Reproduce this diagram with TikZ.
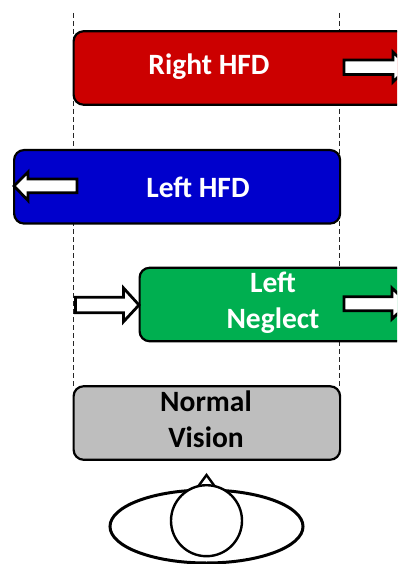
\documentclass[tikz,border=0pt]{standalone}
\usepackage{fontspec}
\usetikzlibrary{shapes.geometric}
\setmainfont{Carlito}
\tikzset{
  barbox/.style={draw=black,line width=2.2pt,rounded corners=10pt,minimum height=73.5pt,inner sep=0pt,anchor=west},
  barlabel/.style={font=\fontsize{29.5}{33}\selectfont\bfseries,text=white,inner sep=0pt,anchor=base},
  greylabel/.style={barlabel,text=black},
  fieldline/.style={draw=black!85,line width=1pt,dash pattern=on 5pt off 3pt},
  blockarrow/.style={draw=black,fill=white,line width=2.8pt,miter limit=6},
  eyeline/.style={draw=black,fill=white,line width=2.4pt},
  headline/.style={draw=black,fill=white,line width=3pt}
}
\definecolor{barred}{HTML}{CC0000}
\definecolor{barblue}{HTML}{0000CC}
\definecolor{bargreen}{HTML}{00AF50}
\definecolor{bargrey}{HTML}{BEBEBE}
\begin{document}
\begin{tikzpicture}[x=1pt,y=-1pt]
\useasboundingbox (0,0) rectangle (397,564);
\clip (0,0) rectangle (397,564);
\fill[white] (0,0) rectangle (397,564);
% field limits
\coordinate (lt) at (73,13);
\coordinate (lb) at (73,386);
\coordinate (rt) at (339.5,13);
\coordinate (rb) at (339.5,386);
\draw[fieldline] (lt) -- (lb);
\draw[fieldline] (rt) -- (rb);
% bars
\node[barbox,fill=barred,minimum width=360pt] (right) at (72.5,68) {};
\node[barbox,fill=barblue,minimum width=326pt] (left) at (13,186.8) {};
\node[barbox,fill=bargreen,minimum width=300pt] (neglect) at (138.5,304.5) {};
\node[barbox,fill=bargrey,minimum width=266.5pt] (normal) at (72.5,423) {};
% labels
\node[barlabel] (t1) at (209,75) {Right HFD};
\node[barlabel] (t2) at (198,197) {Left HFD};
\node[barlabel] (t3) at (273,292.5) {Left};
\node[barlabel] (t4) at (273,328) {Neglect};
\node[greylabel] (t5) at (206,411) {Normal};
\node[greylabel] (t6) at (206,447) {Vision};
% block arrows
\draw[blockarrow] (344,60) -- (393,60) -- (393,52) -- (408,67) -- (393,82) -- (393,74.5) -- (344,74.5) -- cycle;
\draw[blockarrow] (77,179) -- (28,179) -- (28,172) -- (14,186) -- (28,200.5) -- (28,192.7) -- (77,192.7) -- cycle;
\draw[blockarrow] (75.5,297.3) -- (123.5,297.3) -- (123.5,288) -- (139,305) -- (123.5,321.7) -- (123.5,312.7) -- (75.5,312.7) -- cycle;
\draw[blockarrow] (344,296.7) -- (392,296.7) -- (392,288) -- (408,303.7) -- (392,319) -- (392,310.7) -- (344,310.7) -- cycle;
% eye
\draw[eyeline] (197,488) -- (206.5,475) -- (216,488) -- cycle;
\node[headline,ellipse,minimum width=193pt,minimum height=73pt,inner sep=0pt] (head) at (206.5,526.5) {};
\node[eyeline,circle,minimum size=71pt,inner sep=0pt] (eye) at (206.5,520.7) {};
\end{tikzpicture}
\end{document}
